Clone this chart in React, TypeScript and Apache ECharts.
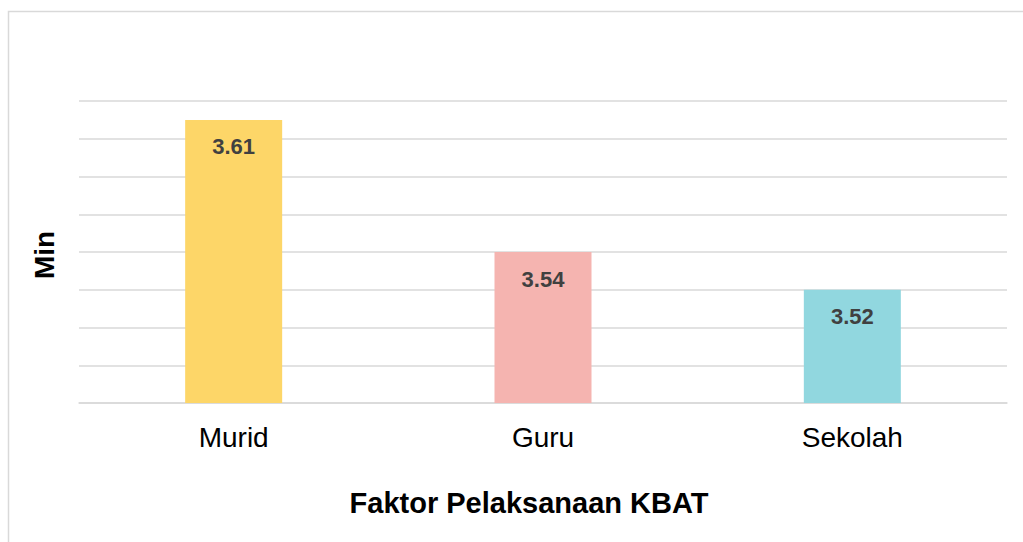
import React, { useEffect, useRef } from "react";
import * as echarts from "echarts";

const categories = ["Murid", "Guru", "Sekolah"];
const values = [3.61, 3.54, 3.52];
const barColors = ["#FDD668", "#F5B4B0", "#91D7DF"];
const xAxisTitle = "Faktor Pelaksanaan KBAT";
const yAxisTitle = "Min";

export default function App() {
  const ref = useRef<HTMLDivElement>(null);
  useEffect(() => {
    if (!ref.current) return;
    const chart = echarts.init(ref.current, undefined, { renderer: "svg" });
    const font = "'Liberation Sans', Arial, sans-serif";
    chart.setOption({
      animation: false,
      backgroundColor: "#ffffff",
      grid: { left: 79, right: 16, top: 101, bottom: 139 },
      graphic: [
        {
          type: "rect",
          shape: { x: 8.5, y: 11.5, width: 1200, height: 700 },
          style: { fill: "none", stroke: "#d9d9d9", lineWidth: 1.5 },
          silent: true,
          z: -1,
        },
        {
          type: "text",
          x: 529,
          y: 503,
          style: {
            text: xAxisTitle,
            fill: "#000000",
            font: "bold 29px 'Liberation Sans', Arial, sans-serif",
            textAlign: "center",
            textVerticalAlign: "middle",
          },
        },
      ],
      xAxis: {
        type: "category",
        data: categories,
        axisLine: { show: true, lineStyle: { color: "#d9d9d9", width: 1.5 } },
        axisTick: { show: false },
        axisLabel: { color: "#000000", fontSize: 28, fontFamily: font, margin: 20 },
      },
      yAxis: {
        type: "value",
        min: 3.46,
        max: 3.62,
        interval: 0.02,
        axisLine: { show: false },
        axisTick: { show: false },
        axisLabel: { show: false },
        splitLine: { lineStyle: { color: "#d9d9d9", width: 1.5 } },
        name: yAxisTitle,
        nameLocation: "middle",
        nameGap: 21,
        nameRotate: 90,
        nameTextStyle: { color: "#000000", fontSize: 28, fontWeight: "bold", fontFamily: font, padding: [0, 6, 0, 0] },
      },
      series: [
        {
          type: "bar",
          barWidth: 97,
          data: values.map((v, i) => ({ value: v, itemStyle: { color: barColors[i] } })),
          label: {
            show: true,
            position: "insideTop",
            distance: 16,
            color: "#404040",
            fontSize: 22,
            fontWeight: "bold",
            fontFamily: font,
            formatter: (p: any) => Number(p.value).toFixed(2),
          },
        },
      ],
    });
    return () => chart.dispose();
  }, []);
  return (
    <div
      ref={ref}
      style={{ position: "absolute", left: 0, top: 0, width: 1023, height: 542 }}
    />
  );
}
